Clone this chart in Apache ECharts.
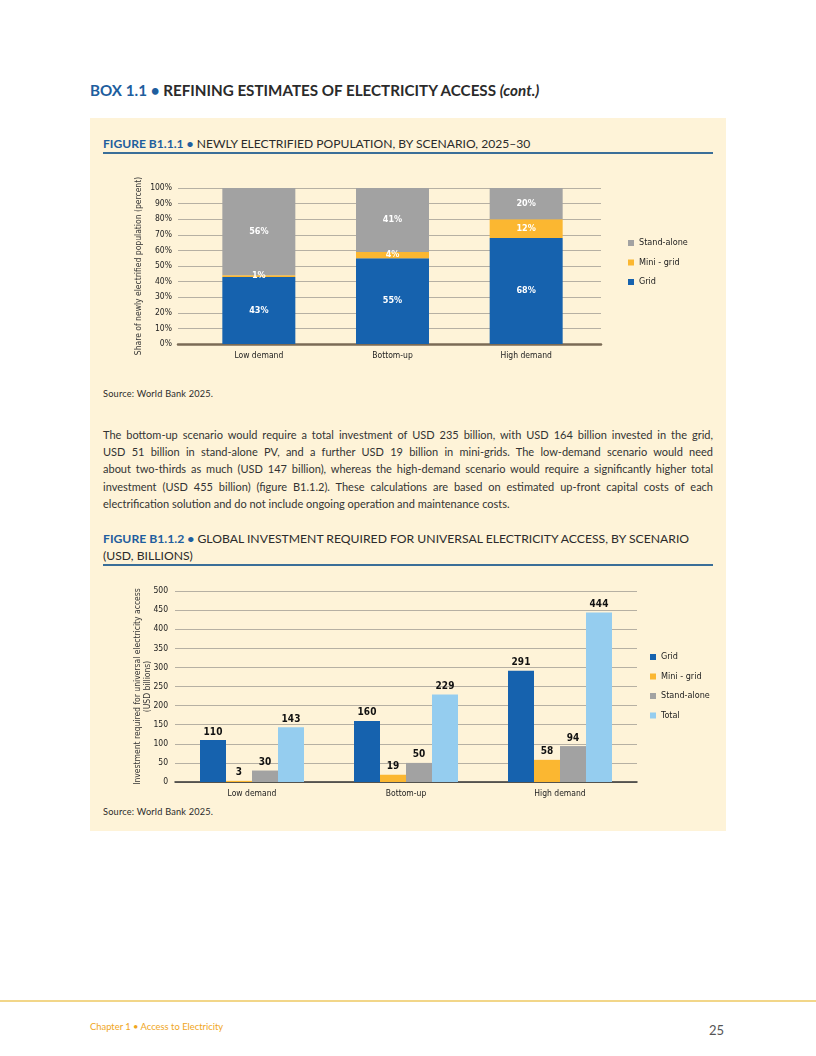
<!DOCTYPE html>
<html><head><meta charset="utf-8">
<script src="https://cdn.jsdelivr.net/npm/echarts@6/dist/echarts.min.js"></script>
<style>
body{margin:0;width:816px;height:1056px;background:#fff;position:relative;overflow:hidden;font-family:Lato,"Open Sans",sans-serif;color:#2b2b2b;}
.abs{position:absolute;white-space:nowrap;}
#panel{position:absolute;left:90px;top:118px;width:636px;height:713px;background:#FEF3D8;}
.blue{color:#1E5E9E;font-weight:700;}
.rule{position:absolute;left:103px;width:610px;height:1.5px;background:#3A6E98;}
.para{position:absolute;left:103px;width:610px;font-size:11px;color:#333;}
.para div{height:17.2px;line-height:17.2px;text-align:justify;text-align-last:justify;white-space:nowrap;}
.para div.last{text-align-last:left;}
#chart{position:absolute;left:0;top:0;width:816px;height:1056px;z-index:2;}
</style></head>
<body>
<div id="panel"></div>
<div class="abs" id="boxTitle" style="left:90px;top:81px;font-size:15.2px;font-weight:700;"><span class="blue">BOX 1.1 •</span> REFINING ESTIMATES OF ELECTRICITY ACCESS <i>(cont.)</i></div>
<div class="abs" id="fig1Title" style="left:103px;top:136px;font-size:12.1px;"><span class="blue">FIGURE B1.1.1 •</span> NEWLY ELECTRIFIED POPULATION, BY SCENARIO, 2025–30</div>
<div class="rule" style="top:152px;"></div>
<div class="abs" style="left:103px;top:388px;font-size:9.2px;letter-spacing:0.2px;">Source: World Bank 2025.</div>
<div class="para" style="top:426px;">
<div>The bottom-up scenario would require a total investment of USD 235 billion, with USD 164 billion invested in the grid,</div>
<div>USD 51 billion in stand-alone PV, and a further USD 19 billion in mini-grids. The low-demand scenario would need</div>
<div>about two-thirds as much (USD 147 billion), whereas the high-demand scenario would require a significantly higher total</div>
<div>investment (USD 455 billion) (figure B1.1.2). These calculations are based on estimated up-front capital costs of each</div>
<div class="last">electrification solution and do not include ongoing operation and maintenance costs.</div>
</div>
<div class="abs" id="fig2Title" style="left:103px;top:530px;font-size:12.2px;line-height:17px;"><span class="blue">FIGURE B1.1.2 •</span> GLOBAL INVESTMENT REQUIRED FOR UNIVERSAL ELECTRICITY ACCESS, BY SCENARIO<br>(USD, BILLIONS)</div>
<div class="rule" style="top:564px;"></div>
<div class="abs" style="left:103px;top:806px;font-size:9.2px;letter-spacing:0.2px;">Source: World Bank 2025.</div>
<div style="position:absolute;left:0;top:1000px;width:816px;height:2px;background:#F2D689;"></div>
<div class="abs" style="left:90px;top:1021px;font-size:9.4px;color:#F0A61C;">Chapter 1 • Access to Electricity</div>
<div class="abs" style="left:709px;top:1022px;font-size:13px;color:#555;">25</div>
<div id="chart"></div>
<script>
// ---- Figure B1.1.1 data (percent) ----
const fig1Categories = ['Low demand', 'Bottom-up', 'High demand'];
const fig1Grid = [43, 55, 68];
const fig1MiniGrid = [1, 4, 12];
const fig1StandAlone = [56, 41, 20];
const fig1Legend = ['Stand-alone', 'Mini - grid', 'Grid'];

// ---- Figure B1.1.2 data (USD billions) ----
const fig2Categories = ['Low demand', 'Bottom-up', 'High demand'];
const fig2Grid = [110, 160, 291];
const fig2MiniGrid = [3, 19, 58];
const fig2StandAlone = [30, 50, 94];
const fig2Total = [143, 229, 444];
const fig2Legend = ['Grid', 'Mini - grid', 'Stand-alone', 'Total'];

const C_GRID = '#1662AE', C_MINI = '#FBB731', C_STAND = '#A2A2A2', C_TOTAL = '#95CDEF';
const FONT = '"DejaVu Sans Condensed","Liberation Sans Narrow",sans-serif';
const GRIDLINE = '#B6B0A3';

const chart = echarts.init(document.getElementById('chart'), null, {renderer: 'canvas'});

const inLabel = {show: true, position: 'inside', color: '#fff', fontWeight: 'bold', fontSize: 9, fontFamily: FONT, formatter: p => p.value + '%'};
const topLabel = {show: true, position: 'top', distance: 3, color: '#111', fontWeight: 'bold', fontSize: 10, fontFamily: FONT};

chart.setOption({
  backgroundColor: 'transparent',
  animation: false,
  textStyle: {fontFamily: FONT},
  grid: [
    {left: 178, top: 188, width: 423, height: 156},   // fig1 gridlines
    {left: 192, top: 188, width: 401, height: 156},   // fig1 bars
    {left: 175, top: 591, width: 462, height: 191}    // fig2
  ],
  xAxis: [
    {gridIndex: 0, type: 'category', data: [''], axisLine: {lineStyle: {color: '#7B6B55', width: 2.5}}, axisTick: {show: false}, axisLabel: {show: false}},
    {gridIndex: 1, type: 'category', data: fig1Categories, axisLine: {show: false}, axisTick: {show: false},
     axisLabel: {color: '#222', fontSize: 8.5, margin: 7, fontFamily: FONT}},
    {gridIndex: 2, type: 'category', data: fig2Categories, axisLine: {lineStyle: {color: '#333', width: 1.5}}, axisTick: {show: false},
     axisLabel: {color: '#222', fontSize: 8.5, margin: 7, fontFamily: FONT}}
  ],
  yAxis: [
    {gridIndex: 0, type: 'value', min: 0, max: 100, interval: 10,
     axisLabel: {formatter: '{value}%', color: '#222', fontSize: 8.5, margin: 6, fontFamily: FONT},
     axisLine: {show: false}, axisTick: {show: false}, splitLine: {lineStyle: {color: GRIDLINE, width: 1}},
     name: 'Share of newly electrified population (percent)', nameLocation: 'middle', nameRotate: 90, nameGap: 35,
     nameMoveOverlap: false,
     nameTextStyle: {color: '#333', fontSize: 8.5, fontFamily: FONT}},
    {gridIndex: 1, type: 'value', min: 0, max: 100, show: false},
    {gridIndex: 2, type: 'value', min: 0, max: 500, interval: 50,
     axisLabel: {color: '#222', fontSize: 8.5, margin: 7, fontFamily: FONT},
     axisLine: {show: false}, axisTick: {show: false}, splitLine: {lineStyle: {color: GRIDLINE, width: 1}},
     name: 'Investment required for universal electricity access\n(USD billions)', nameLocation: 'middle', nameRotate: 90, nameGap: 22.5,
     nameMoveOverlap: false,
     nameTextStyle: {color: '#333', fontSize: 8.5, lineHeight: 10, fontFamily: FONT}}
  ],
  legend: [
    {data: fig1Legend, orient: 'vertical', left: 628, top: 237.5, itemWidth: 6, itemHeight: 6, itemGap: 8.5, padding: 0,
     icon: 'rect', textStyle: {fontSize: 9, lineHeight: 11, color: '#222', fontFamily: FONT}},
    {data: fig2Legend, orient: 'vertical', left: 650, top: 651.5, itemWidth: 6, itemHeight: 6, itemGap: 8.5, padding: 0,
     icon: 'rect', textStyle: {fontSize: 9, lineHeight: 11, color: '#222', fontFamily: FONT}}
  ],
  series: [
    {name: 'Grid', type: 'bar', xAxisIndex: 1, yAxisIndex: 1, stack: 'f1', data: fig1Grid, barWidth: 73, itemStyle: {color: C_GRID}, label: inLabel},
    {name: 'Mini - grid', type: 'bar', xAxisIndex: 1, yAxisIndex: 1, stack: 'f1', data: fig1MiniGrid, barWidth: 73, itemStyle: {color: C_MINI}, label: inLabel},
    {name: 'Stand-alone', type: 'bar', xAxisIndex: 1, yAxisIndex: 1, stack: 'f1', data: fig1StandAlone, barWidth: 73, itemStyle: {color: C_STAND}, label: inLabel},
    {name: 'Grid', type: 'bar', xAxisIndex: 2, yAxisIndex: 2, data: fig2Grid, barWidth: 26, barGap: '0%', itemStyle: {color: C_GRID}, label: topLabel},
    {name: 'Mini - grid', type: 'bar', xAxisIndex: 2, yAxisIndex: 2, data: fig2MiniGrid, barWidth: 26, barGap: '0%', itemStyle: {color: C_MINI}, label: topLabel},
    {name: 'Stand-alone', type: 'bar', xAxisIndex: 2, yAxisIndex: 2, data: fig2StandAlone, barWidth: 26, barGap: '0%', itemStyle: {color: C_STAND}, label: topLabel},
    {name: 'Total', type: 'bar', xAxisIndex: 2, yAxisIndex: 2, data: fig2Total, barWidth: 26, barGap: '0%', itemStyle: {color: C_TOTAL}, label: topLabel}
  ]
});
</script>
</body></html>
